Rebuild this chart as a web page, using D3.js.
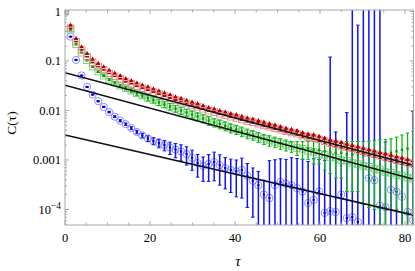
<!DOCTYPE html>
<html>
<head>
<meta charset="utf-8">
<script src="https://cdn.jsdelivr.net/npm/d3@7"></script>
<style>
  body { margin: 0; background: #fff; }
  svg { display: block; }
  text { font-family: "Liberation Serif", "DejaVu Serif", serif; fill: #000; }
</style>
</head>
<body>
<svg id="chart" width="415" height="271"></svg>
<script>
// lag values (tau) shared by the three series
const tau = [0, 1.3, 2.6, 3.9, 5.2, 6.5, 7.8, 9.1, 10.4, 11.7, 13, 14.3, 15.6, 16.9, 18.2, 19.5,
  20.8, 22.1, 23.4, 24.7, 26, 27.3, 28.6, 29.9, 31.2, 32.5, 33.8, 35.1, 36.4, 37.7, 39, 40.3,
  41.6, 42.9, 44.2, 45.5, 46.8, 48.1, 49.4, 50.7, 52, 53.3, 54.6, 55.9, 57.2, 58.5, 59.8, 61.1,
  62.4, 63.7, 65, 66.3, 67.6, 68.9, 70.2, 71.5, 72.8, 74.1, 75.4, 76.7, 78, 79.3, 80.6, 81.9];

// red series (triangles + open squares)
const redC = [1, 0.46, 0.245, 0.167, 0.122, 0.094, 0.077, 0.066, 0.056, 0.049,
  0.0437, 0.038, 0.0347, 0.031, 0.0282, 0.0258, 0.0235, 0.0215, 0.0196, 0.0179,
  0.0163, 0.0152, 0.0139, 0.0127, 0.0119, 0.0108, 0.0099, 0.0093, 0.0086, 0.0081,
  0.0075, 0.0071, 0.0066, 0.0061, 0.0058, 0.0054, 0.005, 0.0047, 0.0044, 0.0041,
  0.0038, 0.0036, 0.0034, 0.0031, 0.0029, 0.0028, 0.0026, 0.0024, 0.0022, 0.0021,
  0.00195, 0.00183, 0.00171, 0.0016, 0.0015, 0.0014, 0.00131, 0.00123, 0.00115, 0.00108,
  0.00101, 0.00095, 0.00089, 0.00084];
const redErr = [0, 0.004, 0.002, 0.0015, 0.0012, 0.0009, 0.0008, 0.0007, 0.0006, 0.0005,
  0.0006, 0.0006, 0.0005, 0.0005, 0.0005, 0.0005, 0.0005, 0.0004, 0.0004, 0.0004,
  0.00033, 0.00033, 0.00032, 0.00032, 0.00031, 0.00031, 0.0003, 0.0003, 0.0003, 0.0003,
  0.0003, 0.0003, 0.0003, 0.0003, 0.0003, 0.00029, 0.00029, 0.00028, 0.00028, 0.00027,
  0.00027, 0.00026, 0.00025, 0.00024, 0.00023, 0.00023, 0.00022, 0.00022, 0.00021, 0.00021,
  0.0002, 0.00019, 0.00018, 0.00017, 0.00017, 0.00016, 0.00016, 0.00015, 0.00015, 0.00014,
  0.00013, 0.00013, 0.00012, 0.00012];

// green series: points with error bars, and open squares
const greenC = [1, 0.43, 0.218, 0.147, 0.1035, 0.0766, 0.0608, 0.0505, 0.042, 0.0365,
  0.0317, 0.0282, 0.0252, 0.0224, 0.02, 0.0178, 0.0162, 0.0145, 0.0132, 0.012,
  0.0109, 0.00998, 0.0091, 0.0083, 0.00757, 0.0069, 0.0063, 0.00574, 0.00536, 0.00489,
  0.00444, 0.00414, 0.00378, 0.00344, 0.00321, 0.00293, 0.00267, 0.00249, 0.00233, 0.00217,
  0.00203, 0.0019, 0.0018, 0.0017, 0.0017, 0.0016, 0.0016, 0.0015, 0.00145, 0.0014,
  0.0014, 0.0013, 0.0013, 0.0013, 0.00125, 0.00125, 0.0013, 0.0013, 0.0013, 0.0014,
  0.0015, 0.0016, 0.0017, 0.0018];
const greenErr = [0, 0.0086, 0.0044, 0.003, 0.0021, 0.0015, 0.0024, 0.0023, 0.0021, 0.0022,
  0.0022, 0.0023, 0.0023, 0.0022, 0.002, 0.002, 0.0019, 0.0019, 0.0018, 0.0018,
  0.0017, 0.0017, 0.0015, 0.0015, 0.0014, 0.0013, 0.0013, 0.0011, 0.0011, 0.001,
  0.00093, 0.00087, 0.00083, 0.00076, 0.00071, 0.00067, 0.00061, 0.0006, 0.00056, 0.00052,
  0.00051, 0.00047, 0.00057, 0.00067, 0.00067, 0.00077, 0.00077, 0.00087, 0.00092, 0.00097,
  0.00097, 0.00107, 0.00107, 0.00107, 0.00112, 0.00114, 0.0012, 0.00125, 0.0013, 0.0013,
  0.0014, 0.0016, 0.0018, 0.002];
const greenOpen = [1, 0.43, 0.218, 0.147, 0.1035, 0.0766, 0.0608, 0.0505, 0.042, 0.0365,
  0.0317, 0.0282, 0.0252, 0.0224, 0.02, 0.0178, 0.0162, 0.0145, 0.0132, 0.012,
  0.0109, 0.00998, 0.0091, 0.0083, 0.00757, 0.0069, 0.0063, 0.00574, 0.00536, 0.00489,
  0.00444, 0.00414, 0.00378, 0.00344, 0.00321, 0.00293, 0.00267, 0.00249, 0.00233, 0.00217,
  0.00203, 0.00192, 0.00175, 0.00168, 0.00152, 0.00146, 0.00132, 0.00127, 0.00115, 0.00111,
  0.00099, 0.00096, 0.00087, 0.00083, 0.00076, 0.00073, 0.00066, 0.00063, 0.00057, 0.00055,
  0.0005, 0.00048, 0.00044, 0.00042];

// blue series (circles)
const blueC = [1, 0.31, 0.105, 0.051, 0.0299, 0.0209, 0.0154, 0.0118, 0.0093, 0.0075,
  0.0062, 0.0053, 0.0044, 0.00368, 0.00313, 0.00272, 0.00242, 0.0022, 0.00201, 0.00179,
  0.00163, 0.00149, 0.00132, 0.0011, 0.00087, 0.00076, 0.00083, 0.00091, 0.00079, 0.00069,
  0.00063, 0.00059, 0.00063, 0.00048, 0.00038, 0.00031, 0.0002, 0.00017, 0.00031, 0.00036,
  0.00033, 0.00031, 0.00027, 0.00023, 0.000135, 0.000156, 0.00023, 0.000085, 0.000093, 0.000089,
  0.0002, 0.000067, 0.00007, 0.000056, 0.000039, 0.00043, 0.00039, 0.00012, 0.00011, 0.00025,
  0.00023, 0.00018, 0.000089, 0.000061];
const blueErr = [0, 0.003, 0.001, 0.0005, 0.0004, 0.0003, 0.0003, 0.0003, 0.0003, 0.0003,
  0.0003, 0.0003, 0.0003, 0.0003, 0.00031, 0.00035, 0.00039, 0.00044, 0.00048, 0.0005,
  0.00052, 0.00054, 0.00053, 0.00048, 0.00042, 0.00039, 0.00046, 0.00053, 0.00048, 0.00043,
  0.00041, 0.00041, 0.00046, 0.00037, 0.00031, 0.00028, 0.00019, 0.0008, 0.0007, 0.0007,
  0.0007, 0.0008, 0.0008, 0.0008, 0.0008, 0.0009, 0.0008, 0.0009, 0.12, 0.0036,
  0.0008, 0.009, 2, 0.53, 2, 2, 2, 2, 0.0022, 0.0008,
  0.0008, 0.0009, 0.0009, 0.0094];

// exponential fits: value at tau = 0 and at the right edge (tau = 82)
const fitStart = [0.058, 0.0323, 0.0032];
const fitEnd = [0.00078, 0.00041, 0.000077];

// axis ticks
const xMajor = [0, 20, 40, 60, 80];
const xMinor = [5, 10, 15, 25, 30, 35, 45, 50, 55, 65, 70, 75];
const yMajor = [1, 0.1, 0.01, 0.001, 0.0001];
const yLabels = ["1", "0.1", "0.01", "0.001", "10^-4"];

const width = 415, height = 271;
const margin = { left: 65, right: 1.5, top: 10, bottom: 46 };
const svg = d3.select("#chart");

const x = d3.scaleLinear().domain([0, 82]).range([margin.left, width - margin.right]);
const y = d3.scaleLog().domain([4.86e-5, 1.072]).range([height - margin.bottom, margin.top]);
const [x0, x1] = x.range();
const [y0, y1] = y.range();

svg.append("defs").append("clipPath").attr("id", "plot-clip")
  .append("rect").attr("x", x0).attr("y", y1).attr("width", x1 - x0).attr("height", y0 - y1);

const plot = svg.append("g").attr("clip-path", "url(#plot-clip)");

// error bar helper: vertical line plus small caps, clipped below zero
function errorBars(g, vals, errs, color, lw) {
  const cap = 1.8;
  tau.forEach((t, i) => {
    if (!errs[i]) return;
    const cx = x(t);
    const top = y(vals[i] + errs[i]);
    const lowVal = vals[i] - errs[i];
    const bot = lowVal > 0 ? y(lowVal) : y0 + 20;
    g.append("line").attr("x1", cx).attr("x2", cx).attr("y1", top).attr("y2", bot)
      .attr("stroke", color).attr("stroke-width", lw);
    g.append("line").attr("x1", cx - cap).attr("x2", cx + cap).attr("y1", top).attr("y2", top)
      .attr("stroke", color).attr("stroke-width", 1);
    if (lowVal > 0) {
      g.append("line").attr("x1", cx - cap).attr("x2", cx + cap).attr("y1", bot).attr("y2", bot)
        .attr("stroke", color).attr("stroke-width", 1);
    }
  });
}

// blue
const gBlue = plot.append("g");
gBlue.selectAll("circle.open").data(blueC).join("circle").attr("class", "open")
  .attr("cx", (d, i) => x(tau[i])).attr("cy", d => y(d)).attr("r", 3.6)
  .attr("fill", "none").attr("stroke", "#8080ff").attr("stroke-width", 0.9);
errorBars(gBlue, blueC, blueErr, "#1010ff", 1.5);
gBlue.selectAll("rect.dot").data(blueC).join("rect").attr("class", "dot")
  .attr("x", (d, i) => x(tau[i]) - 1.1).attr("y", d => y(d) - 1.1)
  .attr("width", 2.2).attr("height", 2.2).attr("fill", "#0000e0");

// green
const gGreen = plot.append("g");
gGreen.selectAll("rect.open").data(greenOpen).join("rect").attr("class", "open")
  .attr("x", (d, i) => x(tau[i]) - 3.3).attr("y", d => y(d) - 3.3)
  .attr("width", 6.6).attr("height", 6.6)
  .attr("fill", "none").attr("stroke", "#70d070").attr("stroke-width", 0.9);
errorBars(gGreen, greenC, greenErr, "#12b012", 1.3);
gGreen.selectAll("rect.dot").data(greenC).join("rect").attr("class", "dot")
  .attr("x", (d, i) => x(tau[i]) - 1.2).attr("y", d => y(d) - 1.2)
  .attr("width", 2.4).attr("height", 2.4).attr("fill", "#0a9a0a");

// red
const gRed = plot.append("g");
gRed.selectAll("rect.open").data(redC).join("rect").attr("class", "open")
  .attr("x", (d, i) => x(tau[i]) - 3.3).attr("y", d => y(d) - 3.3)
  .attr("width", 6.6).attr("height", 6.6)
  .attr("fill", "none").attr("stroke", "#e08888").attr("stroke-width", 0.9);
errorBars(gRed, redC, redErr, "#b00000", 1.1);
const tri = d3.symbol().type(d3.symbolTriangle).size(10);
gRed.selectAll("path.tri").data(redC).join("path").attr("class", "tri")
  .attr("transform", (d, i) => `translate(${x(tau[i])},${y(d) - 3})`)
  .attr("d", tri).attr("fill", "#b00000");

// fit lines
plot.selectAll("line.fit").data(fitStart).join("line").attr("class", "fit")
  .attr("x1", x(0)).attr("x2", x(82))
  .attr("y1", d => y(d)).attr("y2", (d, i) => y(fitEnd[i]))
  .attr("stroke", "#111").attr("stroke-width", 1.6);

// frame and ticks
const frameColor = "#a8a8a8";
const axes = svg.append("g");
axes.append("rect").attr("x", x0).attr("y", y1).attr("width", x1 - x0).attr("height", y0 - y1)
  .attr("fill", "none").attr("stroke", frameColor).attr("stroke-width", 1);

function tickLines(vals, len, isX) {
  vals.forEach(v => {
    if (isX) {
      const px = x(v);
      axes.append("line").attr("x1", px).attr("x2", px).attr("y1", y0).attr("y2", y0 - len).attr("stroke", frameColor);
      axes.append("line").attr("x1", px).attr("x2", px).attr("y1", y1).attr("y2", y1 + len).attr("stroke", frameColor);
    } else {
      const py = y(v);
      axes.append("line").attr("x1", x0).attr("x2", x0 + len).attr("y1", py).attr("y2", py).attr("stroke", frameColor);
      axes.append("line").attr("x1", x1).attr("x2", x1 - len).attr("y1", py).attr("y2", py).attr("stroke", frameColor);
    }
  });
}
tickLines(xMajor, 4, true);
tickLines(xMinor, 2.5, true);
tickLines(yMajor, 4, false);
const [ylo, yhi] = y.domain();
const yMinor = [];
[1e-5, 1e-4, 1e-3, 1e-2, 1e-1].forEach(dec => {
  for (let m = 2; m <= 9; m++) {
    const v = dec * m;
    if (v > ylo && v < yhi) yMinor.push(v);
  }
});
tickLines(yMinor, 2, false);

// tick labels
axes.selectAll("text.xl").data(xMajor).join("text").attr("class", "xl")
  .attr("x", d => x(d)).attr("y", 242).attr("text-anchor", "middle")
  .attr("font-size", 12.5).text(d => d);

yMajor.forEach((v, i) => {
  const lab = yLabels[i];
  const t = axes.append("text").attr("x", 61).attr("y", y(v) + 4.5)
    .attr("text-anchor", "end").attr("font-size", 12.5);
  if (lab.includes("^")) {
    const [base, exp] = lab.split("^");
    t.append("tspan").text(base);
    t.append("tspan").attr("dy", -5).attr("font-size", 9.5).text(exp.replace("-", "\u2212"));
  } else {
    t.text(lab);
  }
});

// axis titles
svg.append("text").attr("transform", "translate(16,123) rotate(-90)")
  .attr("text-anchor", "middle").attr("font-size", 13.5).text("C(\u03c4)");
svg.append("text").attr("x", 238).attr("y", 266).attr("text-anchor", "middle")
  .attr("font-size", 15).attr("font-style", "italic").text("\u03c4");
</script>
</body>
</html>
